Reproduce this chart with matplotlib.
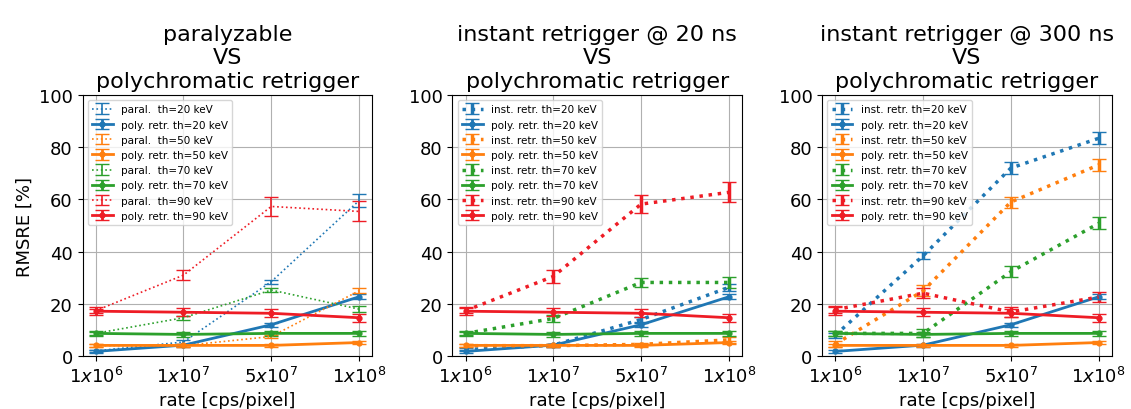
import matplotlib.pyplot as plt
import numpy as np

# Rates (categorical x axis)
rate_labels = [r'$1x10^6$', r'$1x10^7$', r'$5x10^7$', r'$1x10^8$']
thresholds = [20, 50, 70, 90]
colors = ['tab:blue', 'tab:orange', 'tab:green', '#ee1c25']

# polychromatic retrigger (same in every panel)
poly_20 = [1.8, 4.2, 12.0, 22.7]
poly_50 = [4.1, 4.1, 4.1, 5.2]
poly_70 = [8.7, 8.3, 8.7, 8.7]
poly_90 = [17.2, 16.8, 16.4, 14.7]
poly_20_err = [0.6, 0.6, 0.8, 0.9]
poly_50_err = [0.5, 0.5, 0.5, 0.6]
poly_70_err = [0.9, 0.9, 0.9, 0.9]
poly_90_err = [1.6, 1.6, 1.6, 1.5]

# paralyzable
paral_20 = [2.0, 5.4, 28.5, 59.5]
paral_50 = [4.0, 4.0, 7.5, 25.0]
paral_70 = [8.7, 14.7, 25.3, 18.0]
paral_90 = [17.4, 31.0, 57.3, 55.4]
paral_20_err = [0.5, 0.6, 0.8, 2.4]
paral_50_err = [0.5, 0.5, 0.6, 0.9]
paral_70_err = [0.6, 0.8, 0.9, 1.0]
paral_90_err = [0.8, 2.0, 3.8, 3.8]

# instant retrigger @ 20 ns
inst20_20 = [2.5, 4.2, 14.0, 26.3]
inst20_50 = [4.0, 4.0, 4.5, 6.2]
inst20_70 = [8.7, 14.4, 28.2, 28.2]
inst20_90 = [17.4, 30.5, 58.2, 62.7]
inst20_20_err = [0.5, 0.6, 0.8, 1.3]
inst20_50_err = [0.5, 0.5, 0.5, 1.0]
inst20_70_err = [0.6, 1.5, 1.8, 2.0]
inst20_90_err = [1.0, 2.5, 3.5, 3.8]

# instant retrigger @ 300 ns
inst300_20 = [8.0, 38.4, 72.0, 83.4]
inst300_50 = [4.6, 25.0, 59.0, 73.2]
inst300_70 = [8.7, 8.7, 32.3, 50.8]
inst300_90 = [17.8, 24.1, 16.9, 22.6]
inst300_20_err = [1.0, 1.3, 2.4, 2.3]
inst300_50_err = [1.3, 2.1, 2.1, 2.3]
inst300_70_err = [1.0, 1.5, 2.1, 2.3]
inst300_90_err = [1.2, 2.0, 2.0, 2.0]

panels = [
    ('paralyzable\nVS\npolychromatic retrigger', 'paral.  ',
     [paral_20, paral_50, paral_70, paral_90],
     [paral_20_err, paral_50_err, paral_70_err, paral_90_err], 1.2),
    ('instant retrigger @ 20 ns\nVS\npolychromatic retrigger', 'inst. retr. ',
     [inst20_20, inst20_50, inst20_70, inst20_90],
     [inst20_20_err, inst20_50_err, inst20_70_err, inst20_90_err], 2.5),
    ('instant retrigger @ 300 ns\nVS\npolychromatic retrigger', 'inst. retr. ',
     [inst300_20, inst300_50, inst300_70, inst300_90],
     [inst300_20_err, inst300_50_err, inst300_70_err, inst300_90_err], 2.5),
]
poly = [poly_20, poly_50, poly_70, poly_90]
poly_err = [poly_20_err, poly_50_err, poly_70_err, poly_90_err]

x = np.arange(len(rate_labels))

fig, axes = plt.subplots(1, 3, figsize=(11.31, 4.10), dpi=100)
fig.subplots_adjust(left=0.073, right=0.983, top=0.766, bottom=0.129, wspace=0.277)

for ax, (title, name, other, other_err, lw) in zip(axes, panels):
    for i, th in enumerate(thresholds):
        ax.errorbar(x, other[i], yerr=other_err[i], color=colors[i], linestyle=':',
                    linewidth=lw, capsize=5, label=f'{name}th={th} keV')
        ax.errorbar(x, poly[i], yerr=poly_err[i], color=colors[i], linestyle='-',
                    linewidth=2, marker='.', markersize=7, capsize=5,
                    label=f'poly. retr. th={th} keV')
    ax.set_title(title, fontsize=16)
    ax.set_ylim(0, 100)
    ax.set_xticks(x)
    ax.set_xticklabels(rate_labels)
    ax.tick_params(labelsize=13)
    ax.set_xlabel('rate [cps/pixel]', fontsize=13)
    ax.grid(True)
    ax.legend(loc='upper left', fontsize=7.5)

axes[0].set_ylabel('RMSRE [%]', fontsize=13)

plt.savefig('out.png')
